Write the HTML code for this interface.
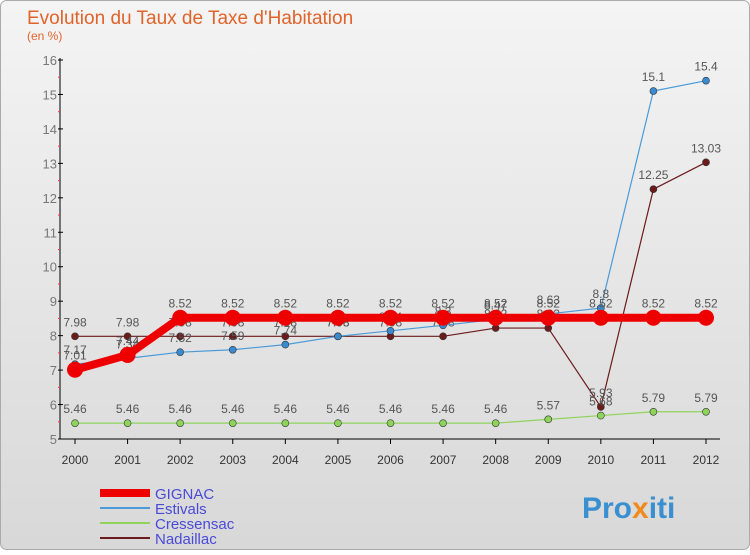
<!DOCTYPE html>
<html><head><meta charset="utf-8"><style>
body{margin:0;width:750px;height:550px;overflow:hidden;font-family:"Liberation Sans",sans-serif}
svg text{font-family:"Liberation Sans",sans-serif}
</style></head><body>
<svg id="c" width="750" height="550" xmlns="http://www.w3.org/2000/svg">
<defs><linearGradient id="bg" x1="0" y1="0" x2="0" y2="1"><stop offset="0" stop-color="#f4f4f4"/><stop offset="1" stop-color="#d8d8d8"/></linearGradient></defs>
<rect x="0.5" y="0.5" width="749" height="549" rx="6" fill="url(#bg)" stroke="#aaa"/>
<text x="27" y="24" font-size="19" fill="#e0632a">Evolution du Taux de Taxe d'Habitation</text>
<text x="27" y="40" font-size="12" fill="#e0632a">(en %)</text>
<g id="axes"></g><g id="series"></g><g id="legend"></g>
<text x="582" y="518" font-size="30" font-weight="bold" fill="#3a8fd0">Pro<tspan fill="#f08a1c">x</tspan>iti</text>
</svg>
<script>
const years=[2000,2001,2002,2003,2004,2005,2006,2007,2008,2009,2010,2011,2012];
const yTicks=[5,6,7,8,9,10,11,12,13,14,15,16];
const gignac=[7.01,7.44,8.52,8.52,8.52,8.52,8.52,8.52,8.52,8.52,8.52,8.52,8.52];
const estivals=[7.17,7.34,7.52,7.59,7.74,7.98,8.14,8.3,8.47,8.63,8.8,15.1,15.4];
const cressensac=[5.46,5.46,5.46,5.46,5.46,5.46,5.46,5.46,5.46,5.57,5.68,5.79,5.79];
const nadaillac=[7.98,7.98,7.98,7.98,7.98,7.98,7.98,7.98,8.22,8.22,5.93,12.25,13.03];
const NS="http://www.w3.org/2000/svg";
const xS=i=>75+i*(706-75)/(years.length-1);
const yS=v=>439-(v-5)*(439-60)/11;
function mk(t,a,p){const e=document.createElementNS(NS,t);for(const k in a)e.setAttribute(k,a[k]);p.appendChild(e);return e;}
const ax=document.getElementById('axes');
const yl=mk('line',{x1:60,y1:58,x2:60,y2:439,stroke:'#000'},ax);


const xl=mk('line',{x1:60,y1:439,x2:720,y2:439,stroke:'#000'},ax);


yTicks.forEach(v=>{const y=yS(v);
mk('line',{x1:58,y1:y,x2:63,y2:y,stroke:'#000'},ax);
const t=mk('text',{x:57,y:y+5,'font-size':13,'text-anchor':'end',fill:'#777'},ax);t.textContent=v;


if(v<16)mk('line',{x1:58,y1:y-17.2,x2:60,y2:y-17.2,stroke:'#f33'},ax);});
years.forEach((yr,i)=>{const x=xS(i);
mk('line',{x1:x,y1:439,x2:x,y2:444,stroke:'#000'},ax);
const t=mk('text',{x:x,y:464,'font-size':12,'text-anchor':'middle',fill:'#333'},ax);t.textContent=yr;

});
const sg=document.getElementById('series');
function series(name,data,color,w,r,dot){
const g=mk('g',{},sg);


mk('polyline',{points:data.map((v,i)=>xS(i)+','+yS(v)).join(' '),fill:'none',stroke:color,'stroke-width':w},g);
data.forEach((v,i)=>{const c=mk('circle',{cx:xS(i),cy:yS(v),r:r,fill:dot,stroke:'#333','stroke-width':r>5?0:0.6},g);


const t=mk('text',{x:xS(i),y:yS(v)-10,'font-size':12,'text-anchor':'middle',fill:'#555'},g);t.textContent=v;

});}
series('nadaillac',nadaillac,'#6b1b1b',1.2,3.5,'#6b1b1b');
series('cressensac',cressensac,'#8fd45a',1.2,3.5,'#8fd45a');
series('estivals',estivals,'#4a9ad8',1.2,3.5,'#3a8ad0');
series('gignac',gignac,'#ee0000',8,8,'#ee0000');
const lg=document.getElementById('legend');
[['GIGNAC','#ee0000',8],['Estivals','#4a9ad8',2],['Cressensac','#8fd45a',2],['Nadaillac','#6b1b1b',2]].forEach((d,i)=>{
const y=493+i*15;const g=mk('g',{},lg);


mk('line',{x1:100,y1:y,x2:150,y2:y,stroke:d[1],'stroke-width':d[2]},g);
const t=mk('text',{x:155,y:y+6,'font-size':15,fill:'#4a4ad8'},g);t.textContent=d[0];});
</script></body></html>
